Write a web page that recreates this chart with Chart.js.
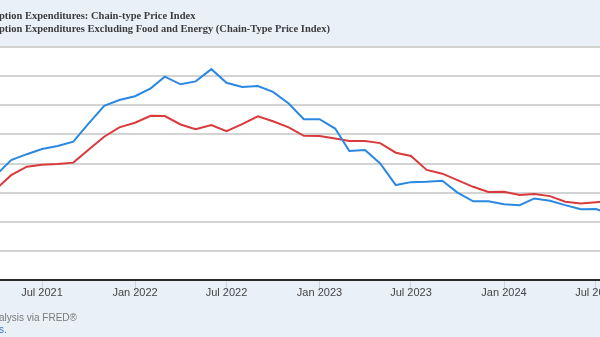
<!DOCTYPE html>
<html>
<head>
<meta charset="utf-8">
<script src="https://cdn.jsdelivr.net/npm/chart.js@4"></script>
<style>
html, body { margin: 0; padding: 0; background: #e9f0f8; }
#frame { position: relative; width: 600px; height: 337px; overflow: hidden; background: #e9f0f8; }
#wrap { position: absolute; left: -80px; top: 0; width: 780px; height: 337px; }
.ttl { position: absolute; left: -1px; white-space: nowrap; font: bold 10.5px "Liberation Serif", serif; color: #3c3c3c; line-height: 13px; }
.src { position: absolute; left: -1px; white-space: nowrap; font: 10px "Liberation Sans", Arial, sans-serif; color: #7a7a7a; line-height: 12px; }
.pre { position: absolute; right: 100%; top: 0; }
</style>
</head>
<body>
<div id="frame">
  <div id="wrap"><canvas id="pce" width="780" height="337"></canvas></div>
  <div class="ttl" style="top:9px"><span class="pre">Personal Consum</span>ption Expenditures: Chain-type Price Index</div>
  <div class="ttl" style="top:22px"><span class="pre">Personal Consum</span>ption Expenditures Excluding Food and Energy (Chain-Type Price Index)</div>
  <div class="src" style="top:312px"><span class="pre">Source: U.S. Bureau of Economic An</span>alysis via FRED®</div>
  <div class="src" style="top:324px;color:#3f74c4"><span class="pre">Shaded areas indicate U.S. recession</span>s.</div>
</div>
<script>
// monthly, percent change from year ago
var months = ['2021-04', '2021-05', '2021-06', '2021-07', '2021-08', '2021-09', '2021-10', '2021-11', '2021-12',
  '2022-01', '2022-02', '2022-03', '2022-04', '2022-05', '2022-06', '2022-07', '2022-08', '2022-09', '2022-10', '2022-11', '2022-12',
  '2023-01', '2023-02', '2023-03', '2023-04', '2023-05', '2023-06', '2023-07', '2023-08', '2023-09', '2023-10', '2023-11', '2023-12',
  '2024-01', '2024-02', '2024-03', '2024-04', '2024-05', '2024-06', '2024-07', '2024-08'];
var pce = [3.6, 4.12, 4.32, 4.5, 4.6, 4.75, 5.37, 5.98, 6.18,
  6.31, 6.58, 6.98, 6.72, 6.82, 7.24, 6.77, 6.63, 6.66, 6.46, 6.06, 5.52,
  5.52, 5.2, 4.43, 4.46, 4.0, 3.26, 3.36, 3.37, 3.41, 3.0, 2.7, 2.7,
  2.6, 2.57, 2.8, 2.72, 2.57, 2.43, 2.44, 2.25];
var corePce = [3.12, 3.6, 3.89, 3.96, 3.98, 4.03, 4.47, 4.92, 5.24,
  5.4, 5.64, 5.63, 5.34, 5.18, 5.32, 5.11, 5.35, 5.62, 5.45, 5.24, 4.95,
  4.94, 4.86, 4.77, 4.77, 4.7, 4.37, 4.26, 3.78, 3.65, 3.43, 3.2, 3.02,
  3.03, 2.92, 2.95, 2.88, 2.69, 2.63, 2.67, 2.72];
var tickMonths = ['2021-07', '2022-01', '2022-07', '2023-01', '2023-07', '2024-01', '2024-07'];
var tickLabels = ['Jul 2021', 'Jan 2022', 'Jul 2022', 'Jan 2023', 'Jul 2023', 'Jan 2024', 'Jul 2024'];
var yTicks = [0, 1, 2, 3, 4, 5, 6, 7, 8];

function dayNum(m) {
  var p = m.split('-');
  return Date.UTC(+p[0], +p[1] - 1, 1) / 86400000;
}
function pts(vals) {
  return vals.map(function (v, i) { return {x: dayNum(months[i]), y: v}; });
}

// plot spans 680px; Jul 2021 sits 82px in, Jan 2024 462px after that
var d0 = dayNum('2021-07');
var pxPerDay = 462 / (dayNum('2024-01') - d0);

var plotBg = {
  id: 'plotBg',
  beforeDraw: function (c) {
    var a = c.chartArea, g = c.ctx;
    g.save();
    g.fillStyle = '#ffffff';
    g.fillRect(a.left, a.top, a.right - a.left, a.bottom - a.top);
    g.restore();
  }
};

new Chart(document.getElementById('pce'), {
  type: 'line',
  data: {
    datasets: [{
      label: 'Personal Consumption Expenditures: Chain-type Price Index',
      data: pts(pce),
      borderColor: '#2b88e2',
      borderWidth: 2,
      pointRadius: 0,
      tension: 0
    }, {
      label: 'Personal Consumption Expenditures Excluding Food and Energy (Chain-Type Price Index)',
      data: pts(corePce),
      borderColor: '#db3a3c',
      borderWidth: 2,
      pointRadius: 0,
      tension: 0
    }]
  },
  options: {
    responsive: false,
    animation: false,
    layout: {padding: {left: 0, right: 60, top: 47, bottom: 0}},
    plugins: {legend: {display: false}, title: {display: false}, tooltip: {enabled: false}},
    scales: {
      x: {
        type: 'linear',
        min: d0 - 82 / pxPerDay,
        max: d0 + 598 / pxPerDay,
        afterBuildTicks: function (s) {
          s.ticks = tickMonths.map(function (m) { return {value: dayNum(m)}; });
        },
        afterFit: function (s) { s.height = 57; },
        border: {display: false},
        grid: {drawOnChartArea: false, tickLength: 12, color: '#d3d3d3', lineWidth: 1},
        ticks: {
          padding: -6,
          maxRotation: 0,
          autoSkip: false,
          color: '#444444',
          font: {family: 'Liberation Sans', size: 11},
          callback: function (v, i) { return tickLabels[i]; }
        }
      },
      y: {
        min: 0,
        max: 8,
        afterBuildTicks: function (s) {
          s.ticks = yTicks.map(function (v) { return {value: v}; });
        },
        afterFit: function (s) { s.width = 40; },
        border: {display: false},
        grid: {
          drawTicks: false,
          color: function (c) { return c.tick.value === 0 ? '#2a2a2a' : '#d3d3d3'; },
          lineWidth: 2
        },
        ticks: {color: '#4a4a4a', font: {family: 'Liberation Sans', size: 11}}
      }
    }
  },
  plugins: [plotBg]
});
</script>
</body>
</html>
